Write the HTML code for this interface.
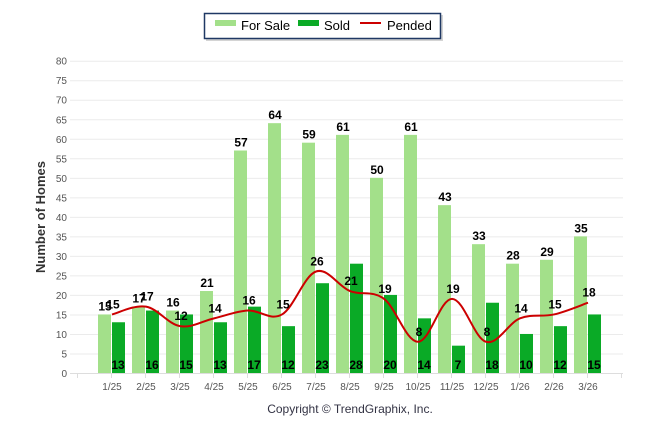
<!DOCTYPE html>
<html><head><meta charset="utf-8"><style>
body{margin:0;background:#fff;width:646px;height:434px;overflow:hidden;font-family:"Liberation Sans",sans-serif}
</style></head><body>
<svg id="chart" width="646" height="434" xmlns="http://www.w3.org/2000/svg">
<g>
<rect x="206" y="15" width="237" height="26" fill="#aaa" opacity="0.5"/>
<rect x="204.5" y="13.5" width="236" height="25" fill="#fff" stroke="#1f3864" stroke-width="1.5"/>
<rect x="215" y="20" width="21" height="6" fill="#a3e08a"/>
<text x="241" y="30" font-size="13" fill="#000">For Sale</text>
<rect x="298" y="20" width="21" height="6" fill="#0aaa26"/>
<text x="324" y="30" font-size="13" fill="#000">Sold</text>
<line x1="360" y1="23" x2="381" y2="23" stroke="#cc0000" stroke-width="2"/>
<text x="387" y="30" font-size="13" fill="#000">Pended</text>
</g>
<g id="grid"></g>
<g id="bars"></g>
<g id="line"></g>
<g id="labels"></g>
<text x="45" y="217" font-size="13" font-weight="bold" fill="#333" text-anchor="middle" transform="rotate(-90 45 217)">Number of Homes</text>
<text x="350" y="413" font-size="12" fill="#334" text-anchor="middle">Copyright © TrendGraphix, Inc.</text>
</svg>
<script>
const categories=["1/25","2/25","3/25","4/25","5/25","6/25","7/25","8/25","9/25","10/25","11/25","12/25","1/26","2/26","3/26"];
const forSale=[15,17,16,21,57,64,59,61,50,61,43,33,28,29,35];
const sold=[13,16,15,13,17,12,23,28,20,14,7,18,10,12,15];
const pended=[15,17,12,14,16,15,26,21,19,8,19,8,14,15,18];
const yTicks=[0,5,10,15,20,25,30,35,40,45,50,55,60,65,70,75,80];
const NS="http://www.w3.org/2000/svg";
const y=v=>373-v*(373-60.7)/80;
const x=i=>112+i*34;
function mk(tag,attrs,parent){const e=document.createElementNS(NS,tag);for(const k in attrs)e.setAttribute(k,attrs[k]);parent.appendChild(e);return e;}
const grid=document.getElementById('grid'),bars=document.getElementById('bars'),line=document.getElementById('line'),labels=document.getElementById('labels');
yTicks.forEach(t=>{
 const l=mk('line',{x1:70,x2:623,y1:y(t)+0.5,y2:y(t)+0.5,stroke:t===0?'#ddd':'#ebebeb','stroke-width':1},grid);
 
 
 const tx=mk('text',{x:67,y:y(t)+4,'font-size':10,fill:'#555','text-anchor':'end'},grid);
 tx.textContent=t;
 
 
});
for(let i=-1;i<=15;i++){mk('line',{x1:x(i)-0.5,x2:x(i)-0.5,y1:373,y2:378,stroke:'#ddd'},grid);}
categories.forEach((c,i)=>{
 const tx=mk('text',{x:x(i),y:390,'font-size':10,fill:'#555','text-anchor':'middle'},grid);
 tx.textContent=c;
 
 
 const b1=mk('rect',{x:x(i)-14,y:y(forSale[i]),width:13,height:373-y(forSale[i]),fill:'#a3e08a'},bars);
 
 
 const b2=mk('rect',{x:x(i),y:y(sold[i]),width:13,height:373-y(sold[i]),fill:'#0aaa26'},bars);
 
 
 const l1=mk('text',{x:x(i)-7,y:y(forSale[i])-4,'font-size':12,'font-weight':'bold',fill:'#000','text-anchor':'middle'},labels);
 l1.textContent=forSale[i];
 
 
 const l2=mk('text',{x:x(i)+6,y:369,'font-size':12,'font-weight':'bold',fill:'#000','text-anchor':'middle'},labels);
 l2.textContent=sold[i];
 
 
 const l3=mk('text',{x:x(i)+1,y:y(pended[i])-6,'font-size':12,'font-weight':'bold',fill:'#000','text-anchor':'middle'},labels);
 l3.textContent=pended[i];
 
 
});
const pts=pended.map((v,i)=>[x(i),y(v)]);
let d='M'+pts[0][0]+','+pts[0][1];
for(let i=0;i<pts.length-1;i++){
 const p0=pts[i-1]||pts[i],p1=pts[i],p2=pts[i+1],p3=pts[i+2]||p2,t=0.35;
 const c1=[p1[0]+(p2[0]-p0[0])*t/2,p1[1]+(p2[1]-p0[1])*t/2];
 const c2=[p2[0]-(p3[0]-p1[0])*t/2,p2[1]-(p3[1]-p1[1])*t/2];
 d+=' C'+c1.join(',')+' '+c2.join(',')+' '+p2.join(',');
}
const path=mk('path',{d:d,fill:'none',stroke:'#cc0000','stroke-width':2},line);


</script>
</body></html>
